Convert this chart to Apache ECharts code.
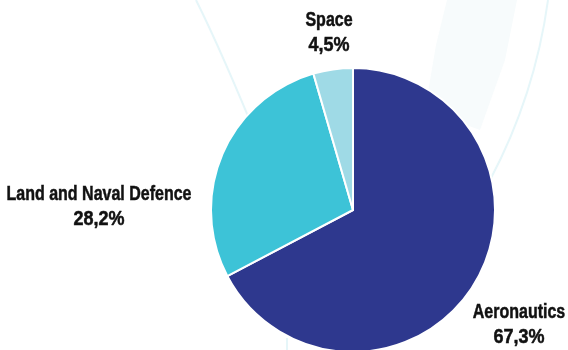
<!DOCTYPE html>
<html>
<head>
<meta charset="utf-8">
<script src="https://cdn.jsdelivr.net/npm/echarts@6/dist/echarts.min.js"></script>
<style>
  html, body { margin: 0; padding: 0; background: #ffffff; }
  #chart { width: 568px; height: 350px; }
</style>
</head>
<body>
<div id="chart"></div>
<script>
// Revenue split by business sector (%)
const sectors = ['Aeronautics', 'Land and Naval Defence', 'Space'];
const shares = [67.3, 28.2, 4.5];
const sectorColors = ['#2e388e', '#3dc3d7', '#9fdae6'];

// Caption placement for each sector: name line and value line centres
const captionSpots = [
  { x: 519, y: 312 },
  { x: 99, y: 194 },
  { x: 329, y: 20 }
];
const captionGap = 25;

const fmt = v => v.toFixed(1).replace('.', ',') + '%';

const chart = echarts.init(document.getElementById('chart'), null, { renderer: 'canvas' });

const faint = '#e6f6f9';
const captionFont = '"Liberation Sans", Arial, sans-serif';

// Condensed heavy captions (narrowed horizontally, slightly thickened)
const captionText = (text, x, y, sx) => ({
  type: 'text', x: x, y: y, scaleX: sx, z: 10, silent: true,
  style: {
    text: text, x: 0, y: 0, align: 'center', verticalAlign: 'middle',
    fontFamily: captionFont, fontWeight: 'bold', fontSize: 20,
    fill: '#111111', stroke: '#111111', lineWidth: 0.5
  }
});

const captions = [];
sectors.forEach((name, i) => {
  const s = captionSpots[i];
  captions.push(captionText(name, s.x, s.y, 0.8));
  captions.push(captionText(fmt(shares[i]), s.x, s.y + captionGap, 0.9));
});

chart.setOption({
  backgroundColor: '#ffffff',
  animation: false,
  graphic: [
    // soft decorative sweeps behind the pie
    {
      type: 'bezierCurve', z: -10, silent: true,
      shape: { x1: 196, y1: 0, x2: 262, y2: 150, cpx1: 222, cpy1: 52 },
      style: { stroke: faint, lineWidth: 2, fill: null }
    },
    {
      type: 'polygon', z: -10, silent: true,
      shape: { points: [[447, 0], [517, 0], [505, 60], [480, 130], [425, 110], [436, 45]] },
      style: { fill: '#f7fbfc' }
    },
    {
      type: 'bezierCurve', z: -10, silent: true,
      shape: { x1: 548, y1: 0, x2: 490, y2: 180, cpx1: 535, cpy1: 95 },
      style: { stroke: faint, lineWidth: 2, fill: null }
    },
    {
      type: 'line', z: -10, silent: true,
      shape: { x1: 287, y1: 338, x2: 287, y2: 350 },
      style: { stroke: faint, lineWidth: 2 }
    }
  ].concat(captions),
  series: [{
    type: 'pie',
    center: [353, 210],
    radius: [0, 142],
    startAngle: 90,
    clockwise: true,
    avoidLabelOverlap: false,
    itemStyle: { borderColor: '#ffffff', borderWidth: 2 },
    label: { show: false },
    labelLine: { show: false },
    data: sectors.map((name, i) => ({
      name: name,
      value: shares[i],
      itemStyle: { color: sectorColors[i] }
    }))
  }]
});
</script>
</body>
</html>
